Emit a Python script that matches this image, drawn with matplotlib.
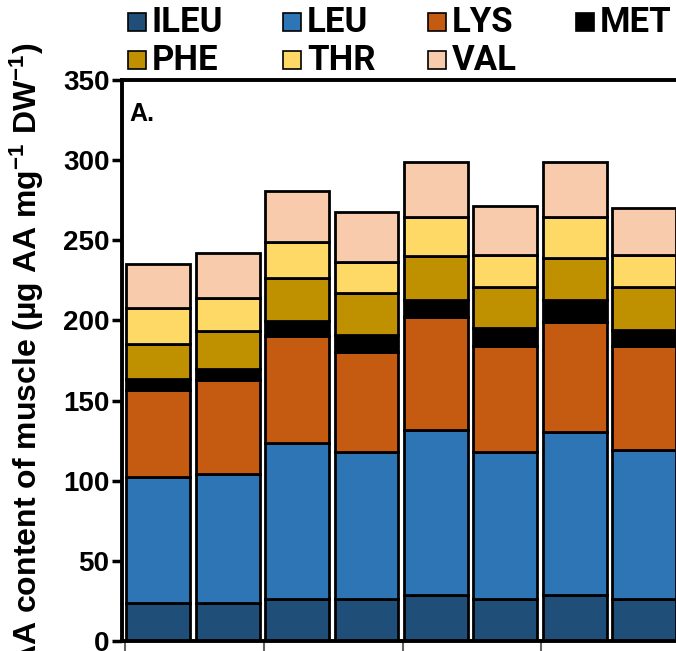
import matplotlib
matplotlib.use("Agg")
import matplotlib.pyplot as plt
from matplotlib import font_manager
from matplotlib.patches import Rectangle
import numpy as np

# ---- data ----
amino_acids = ["ILEU", "LEU", "LYS", "MET", "PHE", "THR", "VAL"]
ILEU = [23.5, 23.5, 26.0, 26.0, 28.5, 26.0, 28.5, 26.0]
LEU = [79.0, 80.5, 97.5, 92.0, 103.0, 92.0, 102.0, 93.0]
LYS = [54.0, 59.0, 66.5, 62.0, 70.5, 66.0, 68.5, 65.0]
MET = [7.0, 7.0, 9.5, 11.0, 10.5, 11.0, 13.5, 10.0]
PHE = [21.5, 23.5, 27.0, 26.0, 28.0, 26.0, 26.5, 27.0]
THR = [22.5, 20.5, 22.5, 19.5, 24.0, 20.0, 25.5, 20.0]
VAL = [28.0, 28.0, 32.0, 31.0, 34.5, 30.5, 34.5, 29.0]
series = [ILEU, LEU, LYS, MET, PHE, THR, VAL]
colors = ["#1f4e79", "#2e75b6", "#c55a11", "#000000", "#bf9000", "#ffd966", "#f8cbad"]
yticks = [0, 50, 100, 150, 200, 250, 300, 350]
group_ticks = [0, 2, 4, 6]
ylabel = "AA content of muscle (µg AA mg$^{\\mathbf{-1}}$ DW$^{\\mathbf{-1}}$)"

def have(name):
    try:
        font_manager.findfont(font_manager.FontProperties(family=name, weight="bold"),
                              fallback_to_default=False)
        return True
    except Exception:
        return False

base = "Liberation Sans" if have("Liberation Sans") else "DejaVu Sans"
legfont = "Roboto" if have("Roboto") else base
plt.rcParams["font.family"] = [base, "DejaVu Sans"]
plt.rcParams["font.weight"] = "bold"
plt.rcParams["mathtext.fontset"] = "custom"
plt.rcParams["mathtext.rm"] = base + ":bold"
plt.rcParams["mathtext.bf"] = base + ":bold"
plt.rcParams["mathtext.default"] = "bf"

W, H = 676, 651
fig = plt.figure(figsize=(W / 100, H / 100), dpi=100)
ax = fig.add_axes([122 / W, 10 / H, 566 / W, 561 / H])

x = np.arange(len(ILEU))
bottom = np.zeros(len(ILEU))
for name, vals, c in zip(amino_acids, series, colors):
    ax.bar(x + 0.02, vals, width=0.92, bottom=bottom, align="edge",
           color=c, edgecolor="black", linewidth=2.0, zorder=2, label=name)
    bottom += np.array(vals)

ax.set_xlim(-0.043, -0.043 + 566 / 69.4)
ax.set_ylim(0, 350)
ax.set_yticks(yticks)
ax.set_yticklabels([str(v) for v in yticks], fontsize=20, fontweight="bold")
ax.set_xticks(group_ticks)
ax.set_xticklabels([])
ax.tick_params(axis="y", direction="out", length=7, width=2.5, pad=2)
ax.tick_params(axis="x", direction="out", length=10, width=1.5, color="#666666")
for s in ax.spines.values():
    s.set_linewidth(2.8)

ax.text(0.013, 0.96, "A.", transform=ax.transAxes, fontsize=18, fontweight="bold",
        ha="left", va="top")

fig.text(27 / W, 1 - 43 / H, ylabel, rotation=90, ha="center", va="top",
         fontsize=23, fontweight="bold")

# legend (two rows, row-major order as in the reference)
leg_pos = {"ILEU": (128, 22), "LEU": (283, 22), "LYS": (428, 22), "MET": (576, 22),
           "PHE": (128, 60), "THR": (283, 60), "VAL": (428, 60)}
sq = 18
for name, c in zip(amino_acids, colors):
    px, py = leg_pos[name]
    fig.patches.append(Rectangle((px / W, (H - py - sq / 2) / H), sq / W, sq / H,
                                 transform=fig.transFigure, facecolor=c,
                                 edgecolor="black", linewidth=1.2))
    fig.text((px + sq + 6) / W, 1 - py / H, name, ha="left", va="center",
             fontsize=25, fontweight="bold", family=legfont)

fig.savefig("out.png", dpi=100)
